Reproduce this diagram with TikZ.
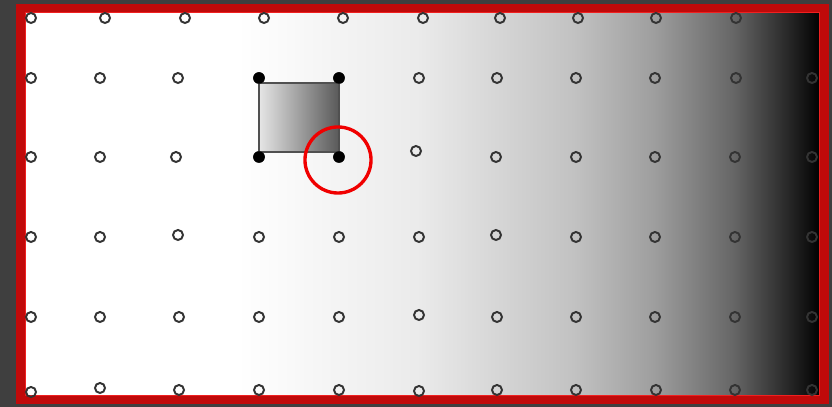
\documentclass[tikz,border=0pt]{standalone}
\usetikzlibrary{calc}
\definecolor{bgdark}{HTML}{3F3F3F}
\definecolor{framered}{HTML}{C00A0A}
\definecolor{framelight}{HTML}{F02020}
\definecolor{ringred}{HTML}{F00000}
\definecolor{sqedge}{HTML}{505050}
\pgfdeclarehorizontalshading{bgshade}{100bp}{
  color(0bp)=(white); color(25bp)=(white); color(38.4bp)=(white);
  color(49.7bp)=(black!8); color(59.5bp)=(black!24); color(64.5bp)=(black!38);
  color(69.5bp)=(black!60); color(73bp)=(black!85); color(75bp)=(black); color(100bp)=(black)}
\tikzset{
  grid pt/.style={circle, draw=black!80, line width=0.55pt, minimum size=0.1cm, inner sep=0pt, fill=none},
  corner pt/.style={circle, fill=black, minimum size=0.115cm, inner sep=0pt},
}
\begin{document}
\begin{tikzpicture}[x=0.01cm, y=-0.01cm]
\useasboundingbox (0,0) rectangle (832,407);
\fill[bgdark] (0,0) rectangle (832,407);
% gradient panel
\shade[shading=bgshade] (24,11) rectangle (821,397);
% frame
\draw[framered, line width=2.6pt] (21,8.5) rectangle (824,399.5);
\draw[framelight, line width=0.4pt] (25.5,12.5) rectangle (819.5,395.5);
% grid circles
\foreach \x/\y [count=\i] in {31/18,105/18,185/18,264/18,343/18,423/18,500/18,578/18,656/18,736/18,
  31/78,100/78,178/78,419/78,497/78,576/78,655/78,736/78,812/78,
  31/157,100/157,176/157,416/151,496/157,576/157,655/157,735/157,812/157,
  31/237,100/237,178/235,259/237,339/237,419/237,496/235,576/237,655/237,735/237,812/237,
  31/317,100/317,179/317,259/317,339/317,419/315,497/317,576/317,655/317,735/317,812/317,
  31/392,100/388,179/390,259/390,339/390,419/391,497/390,576/390,656/390,735/390,812/390}
  \node[grid pt] (g\i) at (\x,\y) {};
% square corners
\node[corner pt] (tl) at (259,78) {};
\node[corner pt] (tr) at (339,78) {};
\node[corner pt] (bl) at (259,157) {};
\node[corner pt] (br) at (339,157) {};
\draw[sqedge, line width=0.75pt, left color=black!10, right color=black!65]
  (tl.center |- 0,83) rectangle (br.center |- 0,152);
\node[corner pt] at (tl) {};
\node[corner pt] at (tr) {};
\node[corner pt] at (bl) {};
\node[corner pt] at (br) {};
% highlight ring
\node[circle, draw=ringred, line width=0.95pt, minimum size=0.66cm, inner sep=0pt] (ring) at (338,160) {};
\end{tikzpicture}
\end{document}
